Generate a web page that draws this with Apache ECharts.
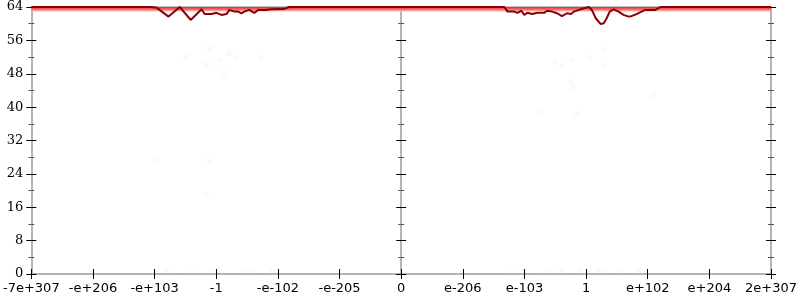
<!DOCTYPE html>
<html><head><meta charset="utf-8">
<script src="https://cdn.jsdelivr.net/npm/echarts@6/dist/echarts.min.js"></script>
<style>html,body{margin:0;padding:0;background:#fff}#c{width:800px;height:300px}</style>
</head><body><div id="c"></div>
<script>
// tick labels (x positions -6..6 on a transformed scale)
const xTickLabels = ['-7e+307','-e+206','-e+103','-1','-e-102','-e-205','0','e-206','e-103','1','e+102','e+204','2e+307'];
// average error line: [x, bits]
const avgLine = [
  [-6,64],[-4.043,64],[-3.962,63.8],[-3.774,61.7],[-3.592,64],[-3.415,60.9],[-3.238,63.45],
  [-3.189,62.3],[-3.077,62.3],[-2.996,62.6],[-2.915,62.1],[-2.835,62.3],[-2.787,63.3],
  [-2.706,62.9],[-2.642,62.9],[-2.593,62.5],[-2.545,62.9],[-2.464,63.3],[-2.384,62.6],
  [-2.319,63.3],[-2.191,63.3],[-2.110,63.45],[-1.901,63.5],[-1.820,64],
  [0,64],[1.675,64],[1.724,62.9],[1.836,62.9],[1.885,62.6],[1.949,63.1],[1.997,62.1],
  [2.046,62.6],[2.126,62.3],[2.207,62.6],[2.319,62.6],[2.368,63.1],[2.448,62.9],[2.529,62.5],
  [2.609,61.8],[2.690,62.5],[2.754,62.3],[2.803,62.9],[2.883,63.3],[2.964,63.7],[3.044,64],
  [3.093,63.3],[3.157,61.3],[3.238,59.9],[3.286,60.1],[3.334,61.3],[3.383,62.9],[3.447,63.45],
  [3.528,62.9],[3.608,62.1],[3.689,61.7],[3.737,61.8],[3.818,62.3],[3.898,62.9],[3.963,63.3],
  [4.124,63.3],[4.204,64],[6,64]
];
// individual sample points (faint)
const samplePoints = [
  [-3.115,54.1],[-3.492,52.1],[-2.793,53.0],[-2.674,51.9],[-3.153,50.3],[-2.938,51.1],
  [-2.271,51.7],[-2.873,48.3],[-3.990,27.2],[-3.120,27.2],[-3.168,19.0],
  [3.302,53.9],[2.497,50.9],[2.765,51.5],[3.055,51.8],[2.604,49.8],[3.296,49.9],
  [2.749,46.2],[2.797,44.6],[4.096,42.8],[2.234,38.8],[2.855,38.3],
  [-3.80,0.6],[-3.40,0.5],[-3.10,0.4],[-2.95,0.7],[-2.55,0.5],[-2.45,0.4],[-2.10,0.6],
  [1.80,0.5],[2.00,0.6],[2.35,0.4],[2.60,0.5],[2.90,0.8],[3.20,0.5],[3.30,0.6],[3.55,0.4],[3.85,0.5]
];
const yMin = 0, yMax = 64, yStep = 8;

const chart = echarts.init(document.getElementById('c'), null, {renderer:'canvas'});
const grey = '#b0b0b0';
const font = {fontFamily:'DejaVu Sans', fontSize:13, color:'#000'};
function yAx(extra){
  return Object.assign({
    type:'value', min:yMin, max:yMax, interval:yStep,
    splitLine:{show:false},
    axisLine:{show:true, onZero:false, lineStyle:{color:grey, width:1.5}},
    axisTick:{show:true, length:5, lineStyle:{color:'#000', width:1}},
    minorTick:{show:true, splitNumber:2, length:3, lineStyle:{color:'#555'}},
    axisLabel:{show:false}
  }, extra);
}
function xAx(extra){
  return Object.assign({
    type:'value', min:-6, max:6, interval:1,
    splitLine:{show:false},
    axisLine:{show:true, onZero:false, lineStyle:{color:grey, width:1.5}},
    axisTick:{show:true, length:5, lineStyle:{color:'#000', width:1}},
    axisLabel:{show:false}
  }, extra);
}
chart.setOption({
  animation:false,
  grid:{left:28, right:27, top:7, bottom:26, containLabel:false},
  xAxis:[
    xAx({position:'bottom', axisLabel:{show:true, margin:8, ...font, formatter:v=>xTickLabels[Math.round(v)+6]}}),
    xAx({position:'bottom', axisTick:{show:true, inside:true, length:5, lineStyle:{color:'#000'}}}),
    xAx({position:'top', axisTick:{show:false}})
  ],
  yAxis:[
    yAx({position:'left', axisLabel:{show:true, margin:8, ...font, fontFamily:'DejaVu Serif'}}),
    yAx({position:'left', axisTick:{show:true, inside:true, length:5, lineStyle:{color:'#000'}}, minorTick:{show:true, splitNumber:2, length:3, lineStyle:{color:'#555'}}}),
    yAx({position:'right'}),
    yAx({position:'right', axisTick:{show:true, inside:true, length:5, lineStyle:{color:'#000'}}}),
    yAx({position:'left', axisLine:{show:true, onZero:true, onZeroAxisIndex:0, lineStyle:{color:grey, width:1.5}}}),
    yAx({position:'left', axisLine:{show:true, onZero:true, onZeroAxisIndex:0, lineStyle:{color:grey, width:1.5}}, axisTick:{show:true, inside:true, length:5, lineStyle:{color:'#000'}}})
  ],
  series:[
    {type:'scatter', xAxisIndex:0, yAxisIndex:0, data:samplePoints, symbolSize:6,
     itemStyle:{color:'rgba(245,120,120,0.07)'}, silent:true, z:1},
    {type:'line', xAxisIndex:0, yAxisIndex:0, data:[[-6,64],[6,64]], symbol:'none',
     lineStyle:{width:0}, silent:true, z:2,
     markArea:{silent:true, itemStyle:{opacity:1, color:{type:'linear',x:0,y:0,x2:0,y2:1,colorStops:[
       {offset:0,color:'#e82828'},{offset:0.5,color:'#f46a6a'},{offset:1,color:'#fcc8c8'}]}},
       data:[[{xAxis:-6, yAxis:62.9},{xAxis:6, yAxis:64}]]}},
    {type:'line', xAxisIndex:0, yAxisIndex:0, data:avgLine, symbol:'none',
     lineStyle:{color:'#8b0000', width:2}, silent:true, z:5}
  ]
});
</script></body></html>
